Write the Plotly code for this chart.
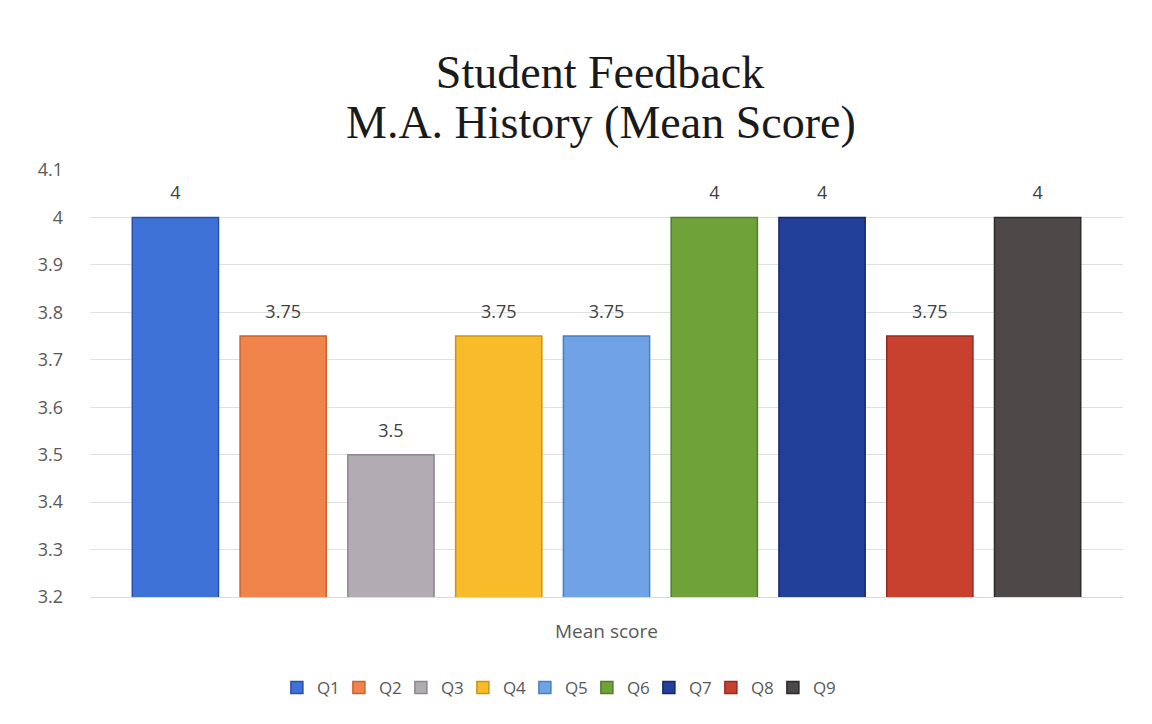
import plotly.graph_objects as go

# data
questions = ['Q1', 'Q2', 'Q3', 'Q4', 'Q5', 'Q6', 'Q7', 'Q8', 'Q9']
mean_scores = [4, 3.75, 3.5, 3.75, 3.75, 4, 4, 3.75, 4]
category = ['Mean score']
y_ticks = [3.2, 3.3, 3.4, 3.5, 3.6, 3.7, 3.8, 3.9, 4.0, 4.1]
y_tick_labels = ['3.2', '3.3', '3.4', '3.5', '3.6', '3.7', '3.8', '3.9', '4', '4.1']
title_lines = ['Student Feedback', 'M.A. History (Mean Score)']

bar_colors = ['#3F72D6', '#F0844A', '#B3ABB3', '#F8BC2A', '#6FA3E6',
              '#6FA33A', '#22409A', '#C8412F', '#4E4848']
edge_colors = ['#2A4FA8', '#C8632E', '#8E868E', '#C99512', '#4A7FC4',
               '#4F7E25', '#14276A', '#952A1E', '#2E2A2A']

title_font = dict(family='Liberation Serif, Times New Roman, serif', size=46, color='#1a1a1a')
label_font = dict(family='Open Sans, sans-serif', size=18, color='#404040')
GAP = 0.061

fig = go.Figure()

for q, val, col, edge in zip(questions, mean_scores, bar_colors, edge_colors):
    fig.add_trace(
        go.Bar(
            x=category,
            y=[val],
            name=q,
            marker=dict(color=col, line=dict(color=edge, width=1.5)),
        )
    )

# value labels as grouped text points so they sit a bit above each bar
for q, val in zip(questions, mean_scores):
    fig.add_trace(
        go.Scatter(
            x=category,
            y=[val],
            mode='markers+text',
            text=[f'{val:g}'],
            textposition='top center',
            textfont=label_font,
            marker=dict(size=20, color='rgba(0,0,0,0)'),
            showlegend=False,
            hoverinfo='skip',
            cliponaxis=False,
        )
    )

# page body has an 8px margin, so the figure is 8px smaller each way
fig.update_layout(
    width=1144,
    height=716,
    barmode='group',
    bargap=GAP,
    bargroupgap=0.2,
    scattermode='group',
    scattergap=GAP,
    paper_bgcolor='white',
    plot_bgcolor='white',
    margin=dict(l=82, r=29, t=162, b=127),
    title=dict(
        text=title_lines[0],
        font=title_font,
        x=0.5175,
        xanchor='center',
        xref='container',
        y=0.9106,
        yanchor='middle',
        yref='container',
    ),
    legend=dict(
        orientation='h',
        x=0.451,
        xanchor='center',
        y=-0.213,
        yanchor='middle',
        font=dict(family='Open Sans, sans-serif', size=17, color='#595959'),
        itemwidth=30,
        entrywidth=17,
        traceorder='normal',
    ),
)

# second title line
fig.add_annotation(
    text=title_lines[1],
    font=title_font,
    xref='paper', yref='paper',
    x=0.4947, y=1.1124,
    xanchor='center', yanchor='middle',
    showarrow=False,
)

fig.update_xaxes(
    showgrid=False,
    showticklabels=False,
    showline=True,
    linecolor='#d9d9d9',
    linewidth=1,
    title=dict(text='Mean score', standoff=27,
               font=dict(family='Open Sans, sans-serif', size=19, color='#595959')),
)

fig.update_yaxes(
    range=[3.2, 4.1],
    tickvals=y_ticks,
    ticktext=y_tick_labels,
    showgrid=True,
    gridcolor='#e0e0e0',
    gridwidth=1,
    zeroline=False,
    showline=False,
    ticks='',
    ticklabelstandoff=26,
    tickfont=dict(family='Open Sans, sans-serif', size=18, color='#595959'),
)

fig.write_html('out.html')
